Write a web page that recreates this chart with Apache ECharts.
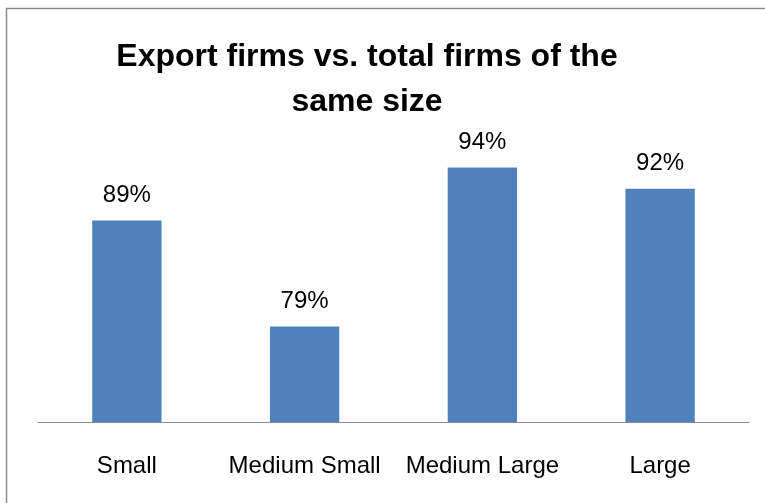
<!DOCTYPE html>
<html>
<head>
<meta charset="utf-8">
<script src="https://cdn.jsdelivr.net/npm/echarts@6/dist/echarts.min.js"></script>
<style>
  html, body { margin: 0; padding: 0; background: #fff; }
  #chart { width: 765px; height: 503px; }
</style>
</head>
<body>
<div id="chart"></div>
<script>
// Share of export firms among all firms of the same size class
const categories = ['Small', 'Medium Small', 'Medium Large', 'Large'];
const exportShare = [89, 79, 94, 92];
const titleText = 'Export firms vs. total firms of the\nsame size';

const FONT = "'Liberation Sans', Arial, sans-serif";

const chart = echarts.init(document.getElementById('chart'), null, { renderer: 'canvas' });
chart.setOption({
  animation: false,
  backgroundColor: '#ffffff',
  title: {
    text: titleText,
    left: 362,
    top: 30,
    textAlign: 'center',
    textStyle: {
      fontFamily: FONT,
      fontSize: 32,
      fontWeight: 'bold',
      color: '#000000',
      lineHeight: 45
    }
  },
  graphic: [{
    type: 'rect',
    shape: { x: 6.5, y: 8.5, width: 800, height: 600 },
    style: { fill: 'none', stroke: '#8c8c8c', lineWidth: 1.5 },
    silent: true
  }],
  grid: { left: 38, right: 16, top: 104, bottom: 81 },
  xAxis: {
    type: 'category',
    data: categories,
    axisLine: { show: true, lineStyle: { color: '#8c8c8c', width: 1 } },
    axisTick: { show: false },
    axisLabel: {
      fontFamily: FONT,
      fontSize: 24,
      color: '#000000',
      margin: 32,
      interval: 0
    }
  },
  yAxis: {
    type: 'value',
    min: 70,
    max: 100,
    show: false,
    splitLine: { show: false }
  },
  series: [{
    type: 'bar',
    data: exportShare,
    barWidth: '39%',
    itemStyle: { color: '#4f81bd' },
    label: {
      show: true,
      position: 'top',
      distance: 13,
      formatter: p => p.value + '%',
      fontFamily: FONT,
      fontSize: 24,
      color: '#000000'
    }
  }]
});
</script>
</body>
</html>
